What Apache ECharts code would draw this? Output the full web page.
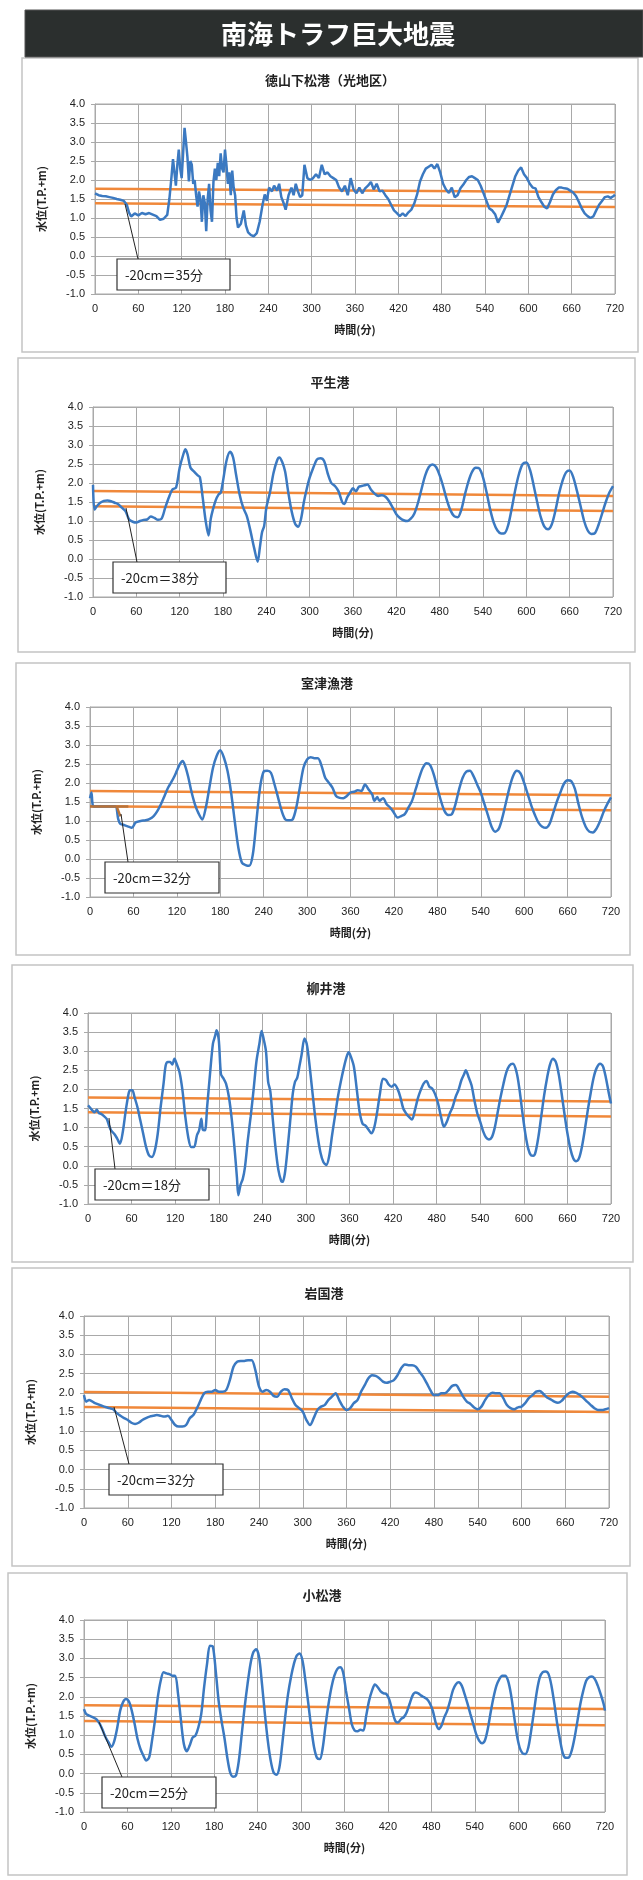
<!DOCTYPE html>
<html><head><meta charset="utf-8">
<script src="https://cdn.jsdelivr.net/npm/echarts@6/dist/echarts.min.js"></script>
<style>html,body{margin:0;padding:0;background:#fff}#c{width:643px;height:1880px}</style>
</head><body><div id="c"></div>
<script>
// ---------- text ----------
const MAIN_TITLE = '南海トラフ巨大地震';
const PORTS = ['徳山下松港（光地区）','平生港','室津漁港','柳井港','岩国港','小松港'];
const NOTES = ['-20cm＝35分','-20cm＝38分','-20cm＝32分','-20cm＝18分','-20cm＝32分','-20cm＝25分'];
const X_NAME = '時間(分)';
const Y_NAME = '水位(T.P.+m)';
const X_MIN = 0, X_MAX = 720, X_STEP = 60;
const Y_MIN = -1, Y_MAX = 4, Y_STEP = 0.5;

// ---------- series values [minute, water level] ----------
const P1 = [[0,1.65],[5,1.60],[10,1.58],[15,1.57],[20,1.55],[25,1.53],[30,1.50],[35,1.48],[40,1.45],[44,1.35],[47,1.15],[50,1.04],[55,1.12],[60,1.07],[65,1.13],[70,1.10],[75,1.13],[80,1.09],[85,1.05],[90,0.95],[95,0.98],[100,1.08],[103,1.5],[106,2.1],[108,2.55],[110,2.2],[112,1.85],[114,2.4],[116,2.8],[118,2.3],[120,2.05],[122,2.7],[124,3.37],[126,3.0],[128,2.6],[130,1.96],[132,2.5],[134,2.4],[136,1.9],[138,2.0],[140,1.6],[142,1.3],[144,1.7],[146,1.5],[148,0.9],[150,1.6],[152,1.4],[154,0.65],[156,1.5],[158,1.9],[160,1.2],[162,0.9],[164,1.95],[166,2.3],[168,2.0],[170,2.45],[172,2.1],[174,2.7],[176,2.3],[178,2.2],[180,2.8],[182,2.4],[184,1.9],[186,2.2],[188,1.6],[190,2.25],[192,1.8],[194,1.6],[196,1.0],[198,0.75],[202,0.85],[206,1.2],[209,0.8],[212,0.62],[216,0.55],[220,0.52],[224,0.6],[228,0.9],[232,1.35],[235,1.62],[238,1.45],[241,1.8],[245,1.7],[248,1.85],[252,1.72],[255,1.9],[258,1.55],[261,1.4],[264,1.22],[268,1.6],[272,1.8],[275,1.6],[278,1.9],[281,1.7],[284,1.55],[287,1.6],[290,2.4],[294,2.05],[298,2.0],[302,2.05],[306,2.15],[310,2.05],[314,2.4],[318,2.15],[322,2.2],[326,2.1],[330,2.05],[334,2.0],[338,1.8],[342,1.7],[346,1.85],[350,1.6],[354,2.05],[358,1.75],[362,1.65],[366,1.8],[370,1.65],[374,1.78],[378,1.85],[382,1.95],[386,1.75],[390,1.9],[394,1.7],[398,1.72],[402,1.6],[406,1.5],[410,1.35],[414,1.2],[418,1.13],[422,1.05],[426,1.12],[430,1.05],[434,1.15],[438,1.22],[442,1.38],[446,1.62],[450,1.96],[454,2.15],[458,2.3],[462,2.35],[466,2.4],[470,2.3],[474,2.42],[478,2.2],[482,1.9],[486,1.75],[490,1.66],[494,1.8],[498,1.55],[502,1.6],[506,1.78],[510,1.88],[514,2.0],[518,2.08],[522,2.1],[526,2.05],[530,2.0],[534,1.85],[538,1.65],[542,1.45],[546,1.25],[550,1.2],[554,1.1],[558,0.88],[562,1.02],[566,1.18],[570,1.35],[574,1.6],[578,1.85],[582,2.1],[586,2.25],[590,2.33],[594,2.15],[598,2.05],[602,1.9],[606,1.8],[610,1.78],[614,1.55],[618,1.42],[622,1.3],[626,1.25],[630,1.42],[634,1.62],[638,1.73],[642,1.8],[646,1.8],[650,1.78],[654,1.77],[658,1.72],[662,1.67],[666,1.58],[670,1.42],[674,1.25],[678,1.12],[682,1.05],[686,1.0],[690,1.04],[694,1.2],[698,1.35],[702,1.45],[706,1.55],[710,1.57],[714,1.53],[718,1.58],[720,1.61]];

const P2 = [[0,1.95],[2,1.30],[5,1.38],[10,1.48],[15,1.53],[20,1.54],[25,1.52],[30,1.48],[35,1.44],[40,1.35],[45,1.26],[50,1.04],[55,0.98],[60,0.96],[65,1.0],[70,1.03],[75,1.04],[80,1.12],[85,1.08],[90,1.03],[95,1.06],[100,1.35],[105,1.62],[110,1.83],[115,1.88],[120,2.4],[125,2.75],[128,2.89],[131,2.75],[135,2.4],[140,2.3],[145,2.2],[148,2.15],[152,1.6],[156,1.0],[160,0.62],[163,1.05],[166,1.3],[170,1.55],[174,1.7],[177,1.75],[180,2.05],[185,2.6],[190,2.82],[194,2.67],[198,2.23],[203,1.7],[208,1.35],[213,1.13],[218,0.74],[223,0.3],[228,-0.07],[231,0.3],[234,0.7],[237,0.87],[240,1.35],[245,1.75],[250,2.27],[255,2.6],[258,2.67],[262,2.55],[266,2.3],[270,1.8],[275,1.26],[280,0.92],[284,0.85],[288,1.05],[292,1.5],[296,1.85],[300,2.14],[305,2.4],[310,2.62],[315,2.65],[320,2.58],[325,2.25],[330,2.0],[335,1.92],[340,1.78],[345,1.5],[348,1.45],[352,1.62],[356,1.75],[360,1.86],[364,1.78],[368,1.9],[372,1.92],[376,1.94],[380,1.96],[385,1.82],[390,1.72],[395,1.66],[400,1.68],[405,1.64],[410,1.52],[415,1.35],[420,1.18],[425,1.08],[430,1.02],[435,1.0],[440,1.06],[445,1.2],[450,1.48],[455,1.85],[460,2.2],[465,2.42],[470,2.49],[475,2.42],[480,2.2],[485,1.9],[490,1.55],[495,1.28],[500,1.13],[505,1.10],[510,1.3],[515,1.7],[520,2.05],[525,2.3],[530,2.40],[535,2.38],[540,2.15],[545,1.75],[550,1.3],[555,0.95],[560,0.75],[565,0.67],[570,0.68],[575,0.9],[580,1.35],[585,1.85],[590,2.25],[595,2.5],[600,2.54],[605,2.35],[610,1.95],[615,1.5],[620,1.1],[625,0.85],[630,0.78],[635,0.9],[640,1.25],[645,1.7],[650,2.05],[655,2.28],[660,2.33],[665,2.15],[670,1.8],[675,1.4],[680,1.0],[685,0.75],[690,0.66],[695,0.68],[700,0.9],[705,1.2],[710,1.5],[715,1.75],[720,1.92]];

const P3 = [[0,1.6],[2,1.75],[4,1.40],[8,1.38],[15,1.38],[25,1.38],[35,1.38],[39,1.05],[42,0.92],[46,0.9],[50,0.87],[55,0.84],[58,0.82],[63,0.96],[70,1.0],[77,1.02],[82,1.05],[88,1.13],[93,1.26],[98,1.44],[103,1.66],[108,1.88],[112,2.01],[116,2.15],[120,2.32],[124,2.49],[128,2.58],[132,2.42],[136,2.14],[140,1.79],[145,1.44],[150,1.2],[155,1.04],[160,1.35],[165,1.88],[170,2.40],[175,2.71],[180,2.86],[185,2.67],[190,2.32],[195,1.75],[200,1.0],[205,0.3],[210,-0.1],[215,-0.16],[220,-0.18],[225,0.12],[230,1.0],[235,1.88],[240,2.3],[245,2.32],[250,2.27],[255,1.96],[260,1.61],[265,1.26],[270,1.04],[275,1.02],[280,1.04],[285,1.35],[290,1.88],[295,2.40],[300,2.62],[305,2.68],[310,2.65],[315,2.65],[320,2.45],[325,2.14],[330,2.01],[335,1.88],[340,1.66],[345,1.61],[350,1.6],[355,1.66],[360,1.75],[365,1.77],[370,1.81],[375,1.79],[380,1.96],[385,1.83],[390,1.70],[393,1.53],[397,1.63],[400,1.53],[405,1.6],[410,1.44],[415,1.35],[420,1.22],[425,1.09],[430,1.13],[435,1.18],[440,1.35],[445,1.53],[450,1.83],[455,2.14],[460,2.40],[465,2.52],[470,2.47],[475,2.23],[480,1.88],[485,1.53],[490,1.26],[495,1.16],[500,1.18],[505,1.44],[510,1.83],[515,2.14],[520,2.30],[525,2.32],[530,2.18],[535,1.96],[540,1.75],[545,1.45],[550,1.15],[555,0.85],[560,0.72],[565,0.8],[570,1.1],[575,1.5],[580,1.9],[585,2.2],[590,2.32],[595,2.25],[600,2.0],[605,1.7],[610,1.4],[615,1.15],[620,0.95],[625,0.85],[630,0.82],[635,0.92],[640,1.2],[645,1.5],[650,1.75],[655,1.98],[660,2.07],[665,2.05],[670,1.85],[675,1.45],[680,1.1],[685,0.85],[690,0.72],[695,0.70],[700,0.8],[705,1.0],[710,1.25],[715,1.45],[720,1.62]];
const P3_MARK_A = [[0,1.38],[53,1.38]];
const P3_MARK_B = [[37,1.38],[42,1.12]];

const P4 = [[0,1.58],[3,1.52],[6,1.45],[9,1.40],[12,1.47],[15,1.38],[18,1.36],[22,1.30],[26,1.22],[29,1.05],[32,0.92],[36,0.84],[40,0.72],[44,0.58],[48,0.9],[52,1.45],[56,1.9],[58,1.98],[61,1.98],[64,1.80],[68,1.54],[72,1.19],[76,0.84],[80,0.49],[84,0.27],[88,0.23],[92,0.40],[96,0.84],[100,1.54],[104,2.15],[107,2.63],[110,2.72],[113,2.72],[116,2.65],[119,2.80],[122,2.67],[126,2.45],[130,1.98],[134,1.28],[138,0.75],[142,0.49],[146,0.49],[150,0.80],[153,0.93],[156,1.23],[158,0.95],[161,0.93],[164,1.54],[168,2.41],[172,3.20],[175,3.4],[177,3.55],[180,3.3],[183,2.4],[186,2.3],[190,2.15],[194,1.8],[198,1.2],[202,0.4],[205,-0.3],[207,-0.77],[210,-0.5],[213,-0.35],[216,-0.05],[220,0.67],[224,1.3],[228,2.0],[232,2.75],[236,3.2],[239,3.53],[242,3.3],[245,3.0],[248,2.2],[251,1.95],[254,1.3],[258,0.5],[262,-0.1],[266,-0.4],[268,-0.42],[271,-0.2],[274,0.3],[278,1.1],[282,1.9],[285,2.2],[288,2.3],[291,2.6],[294,2.9],[298,3.33],[301,3.2],[304,2.8],[308,2.1],[312,1.4],[316,0.8],[320,0.35],[324,0.1],[328,0.02],[332,0.25],[336,0.8],[340,1.3],[344,1.8],[348,2.2],[352,2.55],[356,2.85],[359,2.97],[362,2.85],[366,2.6],[370,2.0],[374,1.4],[378,1.1],[382,1.05],[386,0.95],[390,0.85],[394,1.0],[398,1.4],[402,1.9],[406,2.28],[410,2.25],[414,2.13],[418,2.07],[422,2.13],[426,2.02],[430,1.80],[434,1.50],[438,1.37],[442,1.28],[446,1.21],[450,1.45],[454,1.76],[458,1.98],[462,2.15],[466,2.22],[470,2.07],[474,2.02],[478,1.87],[482,1.63],[486,1.28],[490,1.02],[494,1.15],[498,1.37],[502,1.54],[506,1.80],[510,1.98],[514,2.24],[518,2.41],[520,2.50],[524,2.32],[528,2.11],[532,1.71],[536,1.37],[540,1.15],[544,0.9],[548,0.74],[552,0.69],[556,0.75],[560,1.0],[564,1.4],[568,1.8],[572,2.15],[576,2.45],[580,2.62],[585,2.67],[590,2.45],[594,2.0],[598,1.4],[602,0.85],[606,0.45],[610,0.27],[613,0.26],[616,0.35],[620,0.75],[624,1.3],[628,1.85],[632,2.3],[636,2.65],[640,2.80],[644,2.72],[648,2.4],[652,1.9],[656,1.35],[660,0.85],[664,0.45],[668,0.2],[672,0.12],[676,0.2],[680,0.5],[684,0.95],[688,1.45],[692,1.9],[696,2.3],[700,2.55],[705,2.67],[709,2.6],[713,2.3],[717,1.9],[720,1.63]];

const P5 = [[0,1.94],[3,1.77],[7,1.81],[15,1.73],[25,1.66],[35,1.60],[40,1.57],[45,1.47],[50,1.40],[55,1.34],[60,1.29],[65,1.22],[70,1.19],[75,1.22],[80,1.29],[85,1.34],[90,1.38],[95,1.40],[100,1.42],[105,1.40],[110,1.38],[115,1.40],[120,1.29],[125,1.16],[130,1.12],[135,1.12],[140,1.16],[145,1.34],[150,1.42],[155,1.60],[160,1.81],[165,1.99],[170,2.03],[175,2.03],[180,2.07],[185,2.03],[190,2.03],[195,2.07],[200,2.33],[205,2.68],[210,2.81],[215,2.83],[220,2.83],[225,2.85],[230,2.85],[235,2.59],[240,2.16],[245,2.03],[250,2.07],[255,2.03],[260,1.92],[265,1.90],[270,2.03],[275,2.09],[280,2.07],[285,1.86],[290,1.68],[295,1.60],[300,1.51],[305,1.29],[310,1.16],[315,1.34],[320,1.55],[325,1.64],[330,1.68],[335,1.81],[340,1.90],[345,1.99],[350,1.81],[355,1.64],[360,1.55],[365,1.60],[370,1.73],[375,1.81],[380,2.03],[385,2.20],[390,2.38],[395,2.46],[400,2.44],[405,2.38],[410,2.29],[415,2.26],[420,2.29],[425,2.33],[430,2.46],[435,2.64],[440,2.74],[445,2.72],[450,2.72],[455,2.68],[460,2.55],[465,2.42],[470,2.25],[475,2.07],[480,1.94],[485,1.94],[490,1.99],[495,1.99],[500,2.07],[505,2.18],[510,2.20],[515,2.07],[520,1.90],[525,1.77],[530,1.71],[535,1.62],[540,1.57],[545,1.64],[550,1.81],[555,1.94],[560,2.00],[565,1.99],[570,1.99],[575,1.86],[580,1.68],[585,1.60],[590,1.57],[595,1.62],[600,1.64],[605,1.73],[610,1.86],[615,1.94],[620,2.03],[625,2.05],[630,1.97],[635,1.88],[640,1.83],[645,1.77],[650,1.74],[655,1.79],[660,1.90],[665,1.99],[670,2.03],[675,2.00],[680,1.94],[685,1.86],[690,1.77],[695,1.68],[700,1.60],[705,1.55],[710,1.55],[715,1.57],[720,1.60]];

const P6 = [[0,1.68],[3,1.55],[7,1.51],[12,1.47],[17,1.42],[22,1.29],[26,1.12],[30,0.94],[34,0.81],[38,0.70],[42,0.86],[46,1.20],[50,1.64],[54,1.86],[58,1.94],[62,1.88],[66,1.64],[70,1.29],[74,0.90],[78,0.64],[82,0.47],[86,0.34],[90,0.42],[94,0.86],[98,1.38],[102,1.99],[106,2.42],[110,2.64],[114,2.61],[118,2.59],[122,2.55],[126,2.55],[130,2.07],[134,1.38],[138,0.77],[142,0.58],[146,0.73],[150,0.94],[154,0.99],[158,1.20],[162,1.55],[166,2.25],[170,2.85],[174,3.33],[178,3.31],[182,2.68],[186,1.90],[190,1.38],[194,0.94],[198,0.42],[202,0.03],[206,-0.08],[210,-0.05],[214,0.34],[218,1.03],[222,1.73],[226,2.33],[230,2.85],[234,3.16],[238,3.24],[242,3.03],[246,2.33],[250,1.55],[254,0.86],[258,0.34],[262,0.03],[266,-0.03],[270,0.16],[274,0.77],[278,1.47],[282,2.07],[286,2.51],[290,2.85],[294,3.07],[298,3.13],[302,2.94],[306,2.42],[310,1.82],[314,1.20],[318,0.68],[322,0.41],[326,0.38],[330,0.68],[334,1.29],[338,1.82],[342,2.25],[346,2.55],[350,2.72],[354,2.77],[358,2.64],[362,2.16],[366,1.73],[370,1.29],[374,1.12],[378,1.10],[382,1.14],[386,1.12],[390,1.51],[394,1.90],[398,2.16],[402,2.32],[406,2.25],[410,2.14],[414,2.09],[418,2.07],[422,1.92],[426,1.64],[430,1.38],[434,1.33],[438,1.42],[442,1.47],[446,1.60],[450,1.82],[454,2.03],[458,2.11],[462,2.09],[466,2.03],[470,1.99],[474,1.94],[478,1.83],[482,1.64],[486,1.33],[490,1.16],[494,1.25],[498,1.47],[502,1.64],[506,1.90],[510,2.18],[514,2.33],[518,2.38],[522,2.29],[526,2.07],[530,1.82],[534,1.55],[538,1.29],[542,1.03],[546,0.86],[550,0.79],[554,0.86],[558,1.16],[562,1.60],[566,1.99],[570,2.29],[574,2.46],[578,2.55],[582,2.55],[586,2.42],[590,2.07],[594,1.55],[598,1.03],[602,0.68],[606,0.53],[610,0.51],[614,0.68],[618,1.12],[622,1.64],[626,2.16],[630,2.51],[634,2.64],[638,2.66],[642,2.59],[646,2.29],[650,1.82],[654,1.29],[658,0.86],[662,0.51],[666,0.41],[670,0.42],[674,0.60],[678,0.94],[682,1.38],[686,1.82],[690,2.16],[694,2.42],[698,2.51],[702,2.53],[706,2.46],[710,2.29],[714,2.07],[718,1.82],[720,1.64]];

const SERIES = [P1, P2, P3, P4, P5, P6];
// orange reference lines: [value at 0 min, value at 720 min]
const UPPER = [[1.77,1.68],[1.79,1.66],[1.79,1.68],[1.79,1.68],[2.02,1.90],[1.78,1.68]];
const LOWER = [[1.39,1.29],[1.39,1.26],[1.39,1.28],[1.40,1.29],[1.63,1.50],[1.37,1.26]];

// ---------- layout ----------
const GRIDS = [[95,104,520,190],[93,407,520,190],[90,707,521,190],[88,1013,523,191],[84,1316,525,192],[84,1620,521,192]];
const PANEL_BOX = [[22,58,616,294],[18,358,617,294],[16,663,614,292],[12,965,621,297],[12,1268,618,298],[8,1573,619,302]];
const TITLE_POS = [[330,80],[330,382],[327,683],[326,988],[324,1293],[322,1595]];
const NOTE_BOX = [[117,259,113,31],[113,562,113,31],[105,862,114,31],[95,1169,114,31],[109,1464,114,31],[102,1777,114,31]];
const LEADER = [[125,204,138,259],[126,508,137,562],[121,814,128,862],[109,1118,115,1169],[114,1407,129,1464],[99,1722,122,1777]];

const BLUE = '#3b79c1', ORANGE = '#f0883a', BROWN = '#b8733a', GRIDC = '#a9a9a9';
const JP = '"Noto Sans CJK JP", "Noto Sans", sans-serif';
const NUM = '"Liberation Sans", Arial, sans-serif';

const chart = echarts.init(document.getElementById('c'), null, {renderer:'canvas'});

const grid = [], xAxis = [], yAxis = [], series = [], graphic = [];

graphic.push({type:'rect', shape:{x:25,y:10,width:618,height:47}, style:{fill:'#2b2f2e', stroke:'#555', lineWidth:1}, z:1});
graphic.push({type:'text', x:338, y:34, style:{text:MAIN_TITLE, fill:'#fff', font:'bold 26px ' + JP, textAlign:'center', textVerticalAlign:'middle'}, z:2});

for (let i = 0; i < 6; i++) {
  const g = GRIDS[i];
  grid.push({left:g[0], top:g[1], width:g[2], height:g[3], show:true, borderColor:GRIDC, borderWidth:1, containLabel:false});
  xAxis.push({type:'value', gridIndex:i, min:X_MIN, max:X_MAX, interval:X_STEP,
    name:X_NAME, nameLocation:'middle', nameGap:30,
    nameTextStyle:{fontFamily:JP, fontSize:11, fontWeight:'bold', color:'#222'},
    axisLine:{show:true, lineStyle:{color:GRIDC}}, axisTick:{show:true, length:3, lineStyle:{color:GRIDC}},
    axisLabel:{fontFamily:NUM, fontSize:11, color:'#222', margin:9},
    splitLine:{show:true, lineStyle:{color:GRIDC, width:1}}});
  yAxis.push({type:'value', gridIndex:i, min:Y_MIN, max:Y_MAX, interval:Y_STEP,
    name:Y_NAME, nameLocation:'middle', nameGap:48, nameRotate:90,
    nameTextStyle:{fontFamily:JP, fontSize:11, fontWeight:'bold', color:'#222'},
    axisLine:{show:true, lineStyle:{color:GRIDC}}, axisTick:{show:true, length:4, lineStyle:{color:GRIDC}},
    axisLabel:{fontFamily:NUM, fontSize:11, color:'#222', margin:10, formatter:v => v.toFixed(1)},
    splitLine:{show:true, lineStyle:{color:GRIDC, width:1}}});
  series.push({type:'line', xAxisIndex:i, yAxisIndex:i, data:[[X_MIN,UPPER[i][0]],[X_MAX,UPPER[i][1]]], showSymbol:false, silent:true, lineStyle:{color:ORANGE, width:2.5}, z:2});
  series.push({type:'line', xAxisIndex:i, yAxisIndex:i, data:[[X_MIN,LOWER[i][0]],[X_MAX,LOWER[i][1]]], showSymbol:false, silent:true, lineStyle:{color:ORANGE, width:2.5}, z:2});
  series.push({type:'line', xAxisIndex:i, yAxisIndex:i, data:SERIES[i], showSymbol:false, smooth: i === 0 ? false : 0.3, lineStyle:{color:BLUE, width:2.5}, z:3});

  const b = PANEL_BOX[i];
  graphic.push({type:'rect', shape:{x:b[0], y:b[1], width:b[2], height:b[3]}, style:{fill:'transparent', stroke:'#c4c4c4', lineWidth:1.5}, z:0});
  const t = TITLE_POS[i];
  graphic.push({type:'text', x:t[0], y:t[1], style:{text:PORTS[i], fill:'#222', font:'bold 13px ' + JP, textAlign:'center', textVerticalAlign:'middle'}, z:5});
  const L = LEADER[i];
  graphic.push({type:'line', shape:{x1:L[0], y1:L[1], x2:L[2], y2:L[3]}, style:{stroke:'#222', lineWidth:1}, z:20});
  const n = NOTE_BOX[i];
  graphic.push({type:'rect', shape:{x:n[0], y:n[1], width:n[2], height:n[3]}, style:{fill:'#fff', stroke:'#333', lineWidth:1.2}, z:21});
  graphic.push({type:'text', x:n[0] + 8, y:n[1] + n[3] / 2 + 1, style:{text:NOTES[i], fill:'#222', font:'13px ' + JP, textAlign:'left', textVerticalAlign:'middle'}, z:22});
}
series.push({type:'line', xAxisIndex:2, yAxisIndex:2, data:P3_MARK_A, showSymbol:false, silent:true, lineStyle:{color:BROWN, width:2.5}, z:4});
series.push({type:'line', xAxisIndex:2, yAxisIndex:2, data:P3_MARK_B, showSymbol:false, silent:true, lineStyle:{color:BROWN, width:2.5}, z:4});

chart.setOption({animation:false, backgroundColor:'#fff', grid, xAxis, yAxis, series, graphic});
</script>
</body></html>
